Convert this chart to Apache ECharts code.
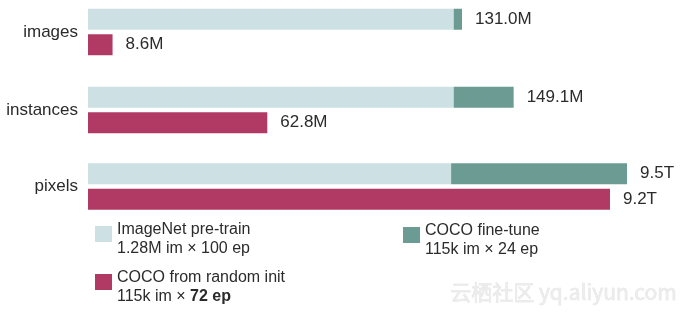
<!DOCTYPE html>
<html>
<head>
<meta charset="utf-8">
<script src="https://cdn.jsdelivr.net/npm/echarts@6/dist/echarts.min.js"></script>
<style>
html,body{margin:0;padding:0;background:#fff;}
#c{width:686px;height:314px;}
</style>
</head>
<body>
<div id="c"></div>
<script>
// ---- data ----
const groups = ['images', 'instances', 'pixels'];
const pretrainVals = [128.1, 128.1, 6.4];   // ImageNet pre-train (M, M, T)
const finetuneVals = [2.9, 21.0, 3.1];      // COCO fine-tune
const randomVals = [8.6, 62.8, 9.2];        // COCO from random init
const totalLabels = ['131.0M', '149.1M', '9.5T'];
const randomLabels = ['8.6M', '62.8M', '9.2T'];
const axisMax = [188.8, 188.8, 9.5];        // per-group scale (M, M, T)
const seriesNames = ['ImageNet pre-train', 'COCO fine-tune', 'COCO from random init'];
const seriesSub = ['1.28M im \u00d7 100 ep', '115k im \u00d7 24 ep', '115k im \u00d7 {b|72 ep}'];

// ---- style ----
const C_PRE = '#cde0e4', C_FT = '#6b9b93', C_RND = '#b03a64';
const TXT = '#2b2b2b';
const FONT = '"Liberation Sans", Arial, Helvetica, sans-serif';
const gridTops = [6.5, 84.5, 161];

const grid = [], xAxis = [], yAxis = [], series = [];
groups.forEach((g, i) => {
  grid.push({left: 88, right: 59, top: gridTops[i], height: 51});
  xAxis.push({type: 'value', gridIndex: i, min: 0, max: axisMax[i], show: false});
  yAxis.push({type: 'category', gridIndex: i, data: ['combined', 'random'], inverse: true, show: false});
  yAxis.push({type: 'category', gridIndex: i, data: [g], position: 'left',
    axisLine: {show: false}, axisTick: {show: false}, splitLine: {show: false},
    axisLabel: {fontSize: 17, color: TXT, fontFamily: FONT, margin: 10, padding: [3, 0, 0, 0]}});
  const lbl = (txt) => ({show: true, position: 'right', distance: 13, fontSize: 17,
    color: TXT, fontFamily: FONT, formatter: () => txt});
  series.push({name: seriesNames[0], type: 'bar', xAxisIndex: i, yAxisIndex: 2 * i, stack: 's' + i,
    barWidth: 21, barGap: '-100%', itemStyle: {color: C_PRE},
    data: [pretrainVals[i], '-']});
  series.push({name: seriesNames[1], type: 'bar', xAxisIndex: i, yAxisIndex: 2 * i, stack: 's' + i,
    barWidth: 21, barGap: '-100%', itemStyle: {color: C_FT},
    label: lbl(totalLabels[i]),
    data: [finetuneVals[i], '-']});
  series.push({name: seriesNames[2], type: 'bar', xAxisIndex: i, yAxisIndex: 2 * i,
    barWidth: 21, barGap: '-100%', itemStyle: {color: C_RND},
    label: lbl(randomLabels[i]),
    data: ['-', randomVals[i]]});
});

const legendPos = [{left: 95, top: 210}, {left: 403, top: 211}, {left: 95, top: 258}];
const legend = seriesNames.map((n, k) => ({
  data: [n], left: legendPos[k].left, top: legendPos[k].top, padding: 0,
  icon: 'rect', itemWidth: 17, itemHeight: 16, selectedMode: false,
  formatter: (name) => name + '\n' + seriesSub[k],
  textStyle: {fontSize: 16, color: TXT, fontFamily: FONT, lineHeight: 19, padding: [10, 0, 0, 0],
    rich: {b: {fontSize: 16, fontWeight: 'bold', color: TXT, fontFamily: FONT, lineHeight: 19}}}
}));

const chart = echarts.init(document.getElementById('c'), null, {renderer: 'canvas'});
chart.setOption({
  animation: false,
  backgroundColor: '#fff',
  grid, xAxis, yAxis, series, legend,
  graphic: [{type: 'text', left: 450, top: 281, silent: true,
    style: {text: '云栖社区 yq.aliyun.com', fill: '#ececec', stroke: '#dcdcdc', lineWidth: 0.5,
      font: '21px "Noto Sans CJK SC", "Liberation Sans", sans-serif'}}]
});
</script>
</body>
</html>
